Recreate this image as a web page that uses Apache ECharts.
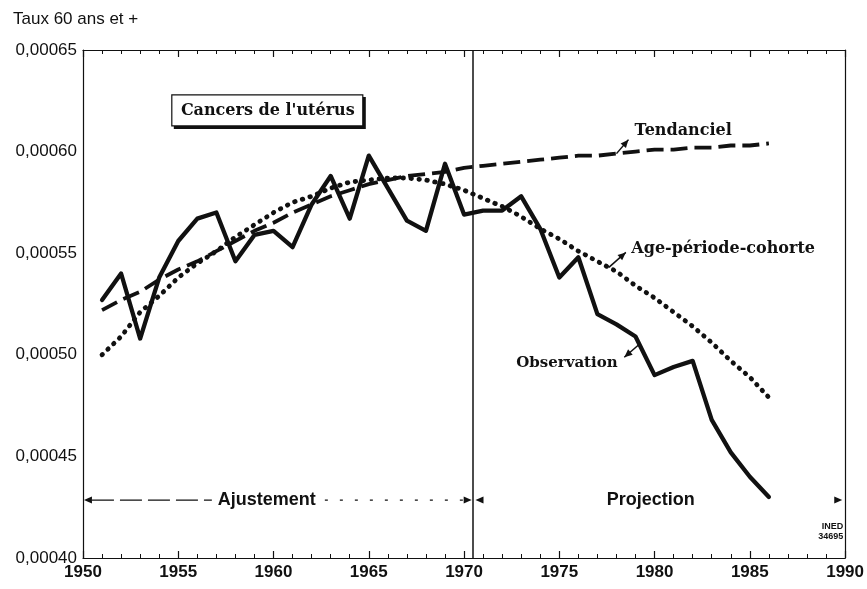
<!DOCTYPE html>
<html><head><meta charset="utf-8">
<script src="https://cdn.jsdelivr.net/npm/echarts@6/dist/echarts.min.js"></script>
<style>html,body{margin:0;padding:0;background:#fff}#c{width:867px;height:589px}</style>
</head><body><div id="c"></div>
<script>
// ---------- DATA ----------
const years = [1951,1952,1953,1954,1955,1956,1957,1958,1959,1960,1961,1962,1963,1964,1965,1966,1967,1968,1969,1970,
               1971,1972,1973,1974,1975,1976,1977,1978,1979,1980,1981,1982,1983,1984,1985,1986];
const observation = [0.000527,0.000540,0.000508,0.000538,0.000556,0.000567,0.000570,0.000546,0.000559,0.000561,
                     0.000553,0.000574,0.000588,0.000567,0.000598,0.000582,0.000566,0.000561,0.000594,0.000569,
                     0.000571,0.000571,0.000578,0.000562,0.000538,0.000548,0.000520,0.000515,0.000509,0.000490,
                     0.000494,0.000497,0.000468,0.000452,0.000440,0.000430];
const tendanciel = [0.000522,0.000527,0.000531,0.000537,0.000542,0.000546,0.000551,0.000556,0.000561,0.000565,
                    0.000570,0.000574,0.000578,0.000581,0.000584,0.000586,0.000588,0.000589,0.000590,0.000592,
                    0.000593,0.000594,0.000595,0.000596,0.000597,0.000598,0.000598,0.000599,0.000600,0.000601,
                    0.000601,0.000602,0.000602,0.000603,0.000603,0.000604];
const agePeriodeCohorte = [0.000500,0.000509,0.000521,0.000529,0.000538,0.000545,0.000551,0.000558,0.000564,0.000570,
                           0.000575,0.000578,0.000582,0.000585,0.000586,0.000587,0.000587,0.000586,0.000584,0.000581,
                           0.000577,0.000573,0.000568,0.000562,0.000557,0.000551,0.000546,0.000541,0.000534,0.000528,
                           0.000521,0.000514,0.000506,0.000497,0.000489,0.000479];
const xTickLabels = ['1950','1955','1960','1965','1970','1975','1980','1985','1990'];
const yTickLabels = ['0,00040','0,00045','0,00050','0,00055','0,00060','0,00065'];
const xMin = 1950, xMax = 1990, xStep = 5;
const yMin = 0.00040, yMax = 0.00065, yStep = 0.00005;
const boundaryYear = 1970.45;
const titleText = 'Taux 60 ans et +';
const boxText = "Cancers de l'utérus";
const seriesNames = ['Observation','Tendanciel','Age-période-cohorte'];
const periodNames = ['Ajustement','Projection'];
const sourceText = ['INED','34695'];

// ---------- CHART ----------
const SANS = '"Liberation Sans", Arial, Helvetica, sans-serif';
const SERIF = '"DejaVu Serif", "Liberation Serif", serif';
const INK = '#111';
const chart = echarts.init(document.getElementById('c'));
const pairs = arr => years.map((y, i) => [y, arr[i]]);

const xAxisBase = {
  type: 'value', min: xMin, max: xMax, interval: xStep,
  axisLine: {show: true, lineStyle: {color: INK, width: 1.2}},
  axisTick: {show: true, inside: true, length: 7, lineStyle: {color: INK, width: 1.2}},
  minorTick: {show: true, splitNumber: 5, length: 4, lineStyle: {color: INK, width: 1}},
  splitLine: {show: false}
};
const option = {
  animation: false,
  backgroundColor: '#fff',
  grid: {left: 83, right: 21, top: 50, bottom: 31},
  xAxis: [
    Object.assign({}, xAxisBase, {position: 'bottom',
      axisLabel: {show: true, color: INK, fontFamily: SANS, fontSize: 17, fontWeight: 'bold', margin: 6,
        showMinLabel: true, showMaxLabel: true,
        formatter: v => xTickLabels[Math.round((v - xMin) / xStep)] || ''}}),
    Object.assign({}, xAxisBase, {position: 'top', axisLabel: {show: false}})
  ],
  yAxis: [
    {type: 'value', min: yMin, max: yMax, interval: yStep,
     axisLine: {show: true, lineStyle: {color: INK, width: 1.2}},
     axisTick: {show: false}, splitLine: {show: false},
     axisLabel: {color: INK, fontFamily: SANS, fontSize: 17, margin: 6,
       showMinLabel: true, showMaxLabel: true,
       formatter: v => yTickLabels[Math.round((v - yMin) / yStep)] || ''}},
    {type: 'value', min: yMin, max: yMax, interval: yStep, position: 'right',
     axisLine: {show: true, lineStyle: {color: INK, width: 1.2}},
     axisTick: {show: false}, axisLabel: {show: false}, splitLine: {show: false}}
  ],
  series: [
    {name: seriesNames[0], type: 'line', data: pairs(observation), showSymbol: false, symbol: 'none',
     lineStyle: {color: INK, width: 4.3, join: 'round', cap: 'round'}, silent: true, z: 5,
     markLine: {silent: true, symbol: 'none', label: {show: false},
       lineStyle: {color: INK, width: 1.5, type: 'solid'}, data: [{xAxis: boundaryYear}]}},
    {name: seriesNames[1], type: 'line', data: pairs(tendanciel), showSymbol: false, symbol: 'none',
     lineStyle: {color: INK, width: 3.8, type: [17, 7]}, silent: true, z: 4},
    {name: seriesNames[2], type: 'line', data: pairs(agePeriodeCohorte), showSymbol: false, symbol: 'none',
     lineStyle: {color: INK, width: 4.8, type: [0.5, 7.5], cap: 'round'}, silent: true, z: 4}
  ]
};
chart.setOption(option);

// ---------- ANNOTATIONS ----------
const P = (x, y) => chart.convertToPixel({xAxisIndex: 0, yAxisIndex: 0}, [x, y]);
function curveAt(arr, yr) {
  const i = Math.floor(yr) - years[0];
  const f = yr - Math.floor(yr);
  return arr[i] + (arr[Math.min(i + 1, arr.length - 1)] - arr[i]) * f;
}
function arrowHead(tip, dx, dy, len, hw) {
  const L = Math.hypot(dx, dy); const ux = dx / L, uy = dy / L;
  const bx = tip[0] - ux * len, by = tip[1] - uy * len;
  return {type: 'polygon', silent: true, z: 20,
    shape: {points: [tip, [bx - uy * hw, by + ux * hw], [bx + uy * hw, by - ux * hw]]},
    style: {fill: INK}};
}
function leader(start, off) {
  const end = [start[0] + off[0], start[1] + off[1]];
  return [
    {type: 'line', silent: true, z: 20, shape: {x1: start[0], y1: start[1], x2: end[0], y2: end[1]},
     style: {stroke: INK, lineWidth: 1.5}},
    arrowHead(end, off[0], off[1], 8, 3.5)
  ];
}
const g = [];
// title
g.push({type: 'text', left: 13, top: 11, z: 20, style: {text: titleText, font: '17px ' + SANS, fill: INK}});
// box
const bc = P(1959.7, 0.000620);
g.push({type: 'rect', z: 18, silent: true, shape: {x: bc[0] - 94, y: bc[1] - 14, width: 192, height: 32}, style: {fill: INK}});
g.push({type: 'rect', z: 19, silent: true, shape: {x: bc[0] - 96, y: bc[1] - 16, width: 191, height: 31}, style: {fill: '#fff', stroke: INK, lineWidth: 1.2}});
g.push({type: 'text', z: 20, x: bc[0], y: bc[1], style: {text: boxText, font: 'bold 16px ' + SERIF, fill: INK, textAlign: 'center', textVerticalAlign: 'middle'}});
// series labels
const tl = P(1981.5, 0.000610);
g.push({type: 'text', z: 20, x: tl[0], y: tl[1], style: {text: seriesNames[1], font: 'bold 16px ' + SERIF, fill: INK, textAlign: 'center', textVerticalAlign: 'middle'}});
g.push(...leader(P(1978, curveAt(tendanciel, 1978)), [12, -14]));
const al = P(1983.6, 0.000552);
g.push({type: 'text', z: 20, x: al[0], y: al[1], style: {text: seriesNames[2], font: 'bold 16px ' + SERIF, fill: INK, textAlign: 'center', textVerticalAlign: 'middle'}});
g.push(...leader(P(1977.6, curveAt(agePeriodeCohorte, 1977.6)), [17, -15]));
const ol = P(1975.4, 0.000496);
g.push({type: 'text', z: 20, x: ol[0], y: ol[1], style: {text: seriesNames[0], font: 'bold 15px ' + SERIF, fill: INK, textAlign: 'center', textVerticalAlign: 'middle'}});
g.push(...leader(P(1979.2, curveAt(observation, 1979.2)), [-15, 13]));
// period arrows
const rowV = 0.0004285;
const aL = P(1950.05, rowV), aT = P(1959.65, rowV), aR = P(1970.4, rowV);
g.push(arrowHead(aL, -1, 0, 8, 3.5));
g.push({type: 'line', silent: true, z: 20, shape: {x1: aL[0] + 8, y1: aL[1], x2: aT[0] - 55, y2: aL[1]}, style: {stroke: INK, lineWidth: 1.4, lineDash: [22, 6]}});
g.push({type: 'text', z: 20, x: aT[0], y: aT[1], style: {text: periodNames[0], font: 'bold 18px ' + SANS, fill: INK, textAlign: 'center', textVerticalAlign: 'middle'}});
g.push({type: 'line', silent: true, z: 20, shape: {x1: aT[0] + 58, y1: aL[1], x2: aR[0] - 8, y2: aL[1]}, style: {stroke: INK, lineWidth: 1.2, lineDash: [3, 12]}});
g.push(arrowHead(aR, 1, 0, 8, 3.5));
const pL = P(1970.6, rowV), pT = P(1979.8, rowV), pR = P(1989.85, rowV);
g.push(arrowHead(pL, -1, 0, 8, 3.5));
g.push({type: 'text', z: 20, x: pT[0], y: pT[1], style: {text: periodNames[1], font: 'bold 18px ' + SANS, fill: INK, textAlign: 'center', textVerticalAlign: 'middle'}});
g.push(arrowHead(pR, 1, 0, 8, 3.5));
// source
const sp = P(1989.9, 0.000413);
g.push({type: 'text', z: 20, x: sp[0], y: sp[1], style: {text: sourceText.join('\n'), font: 'bold 9px ' + SANS, fill: INK, textAlign: 'right', textVerticalAlign: 'middle', lineHeight: 10}});
chart.setOption({graphic: g});
</script>
</body></html>
